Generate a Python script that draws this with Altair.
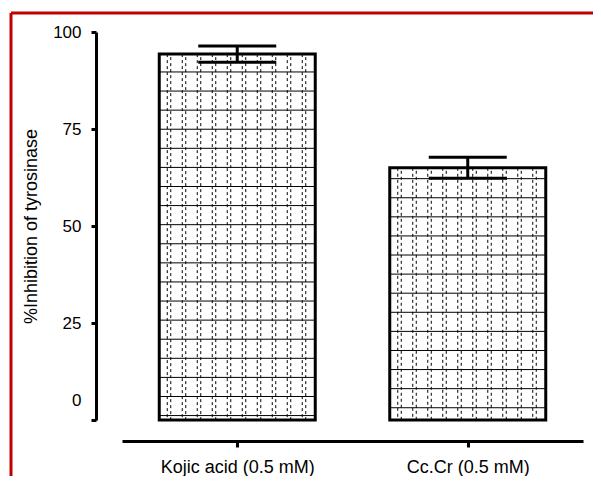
import altair as alt
import pandas as pd

# ---- data ----
categories = ["Kojic acid (0.5 mM)", "Cc.Cr (0.5 mM)"]
positions = [1, 3]
means = [94.3, 65.0]
errors = [2.1, 2.7]
y_ticks = [0, 25, 50, 75, 100]
pattern_first = [89.7, 62.2]   # first horizontal brick line below each bar top

# ---- layout ----
W, H = 461, 388
PX = W / 4.0            # pixels per x unit
HALF = 78 / PX          # half bar width
CAP = 39 / PX           # half cap width
STEP = 4.92             # brick row height (y units)

bars = pd.DataFrame({
    "cat": categories,
    "pos": positions,
    "mean": means,
    "err": errors,
})
bars["lo"] = bars["pos"] - HALF
bars["hi"] = bars["pos"] + HALF
bars["zero"] = 0.0
bars["elo"] = bars["mean"] - bars["err"]
bars["ehi"] = bars["mean"] + bars["err"]
bars["clo"] = bars["pos"] - CAP
bars["chi"] = bars["pos"] + CAP

# brick pattern decoration
hrows = []
vrows = []
for p, m, first in zip(positions, means, pattern_first):
    yv = first
    while yv > 0.5:
        hrows.append({"lo": p - HALF, "hi": p + HALF, "y": yv})
        yv -= STEP
    k = 0
    while True:
        a = 8 + 15 * k
        if a > 152:
            break
        for off, dash in ((a, 0), (a + 3.5, 3)):
            if off < 154:
                vrows.append({"x": p - HALF + off / PX, "top": m, "zero": 0.0, "d": dash})
        k += 1
hdf = pd.DataFrame(hrows)
vdf = pd.DataFrame(vrows)

label_expr = " : ".join(
    [f"datum.value == {p} ? '{c}'" for p, c in zip(positions, categories)] + ["''"]
)

FONT = "Liberation Sans"
xscale = alt.Scale(domain=[0, 4], nice=False, zero=False)
yscale = alt.Scale(domain=[0, 100], nice=False)

x_axis = alt.Axis(
    values=positions, labelExpr=label_expr, title=None, offset=21,
    grid=False, domainWidth=3, domainColor="black", tickWidth=3, tickColor="black",
    tickSize=6, labelFontSize=18, labelFont=FONT, labelColor="black", labelPadding=11,
)
y_axis = alt.Axis(
    values=y_ticks, title="%Inhibition of tyrosinase", offset=26, grid=False,
    domainWidth=3, domainColor="black", tickWidth=3, tickColor="black", tickSize=5,
    labelFontSize=17, labelFont=FONT, labelColor="black", labelPadding=10,
    labelOffset={"condition": {"test": "datum.value === 0", "value": -20}, "value": 0},
    titleFontSize=18, titleFont=FONT, titleFontWeight="normal", titleColor="black",
    titlePadding=12,
)


def X(field):
    return alt.X(field, type="quantitative", scale=xscale, axis=x_axis)


def Y(field):
    return alt.Y(field, type="quantitative", scale=yscale, axis=y_axis)


base = alt.Chart(bars)

fill = base.mark_rect(fill="white").encode(
    x=X("lo"), x2="hi:Q", y=Y("mean"), y2="zero:Q",
)

hlines = alt.Chart(hdf).mark_rule(color="black", strokeWidth=1).encode(
    x=X("lo"), x2="hi:Q", y=Y("y"),
)

vlines0 = alt.Chart(vdf).transform_filter("datum.d == 0").mark_rule(
    color="black", strokeWidth=1, strokeDash=[3, 3]
).encode(x=X("x"), y=Y("top"), y2="zero:Q")
vlines1 = alt.Chart(vdf).transform_filter("datum.d == 3").mark_rule(
    color="black", strokeWidth=1, strokeDash=[3, 3], strokeDashOffset=3
).encode(x=X("x"), y=Y("top"), y2="zero:Q")

outline = base.mark_rect(filled=False, stroke="black", strokeWidth=3).encode(
    x=X("lo"), x2="hi:Q", y=Y("mean"), y2="zero:Q",
)

stem = base.mark_rule(color="black", strokeWidth=3).encode(
    x=X("pos"), y=Y("elo"), y2="ehi:Q",
)
cap_top = base.mark_rule(color="black", strokeWidth=3).encode(
    x=X("clo"), x2="chi:Q", y=Y("ehi"),
)
cap_bot = base.mark_rule(color="black", strokeWidth=3).encode(
    x=X("clo"), x2="chi:Q", y=Y("elo"),
)

frame = alt.Chart(pd.DataFrame({"k": [0]}))
red_left = frame.mark_rule(color="#c00000", strokeWidth=3).encode(
    x=alt.value(-111), y=alt.value(-19), y2=alt.value(H + 200)
)
red_top = frame.mark_rule(color="#c00000", strokeWidth=3).encode(
    x=alt.value(-111), x2=alt.value(W + 200), y=alt.value(-19)
)

chart = alt.layer(
    fill, hlines, vlines0, vlines1, outline, stem, cap_top, cap_bot, red_left, red_top
).properties(
    width=W, height=H,
    autosize=alt.AutoSizeParams(type="none"),
    padding={"left": 114, "top": 24, "right": 10, "bottom": 56},
    background="white",
).configure_view(stroke=None)

chart.save("out.html", embed_options={"renderer": "svg", "actions": False})
